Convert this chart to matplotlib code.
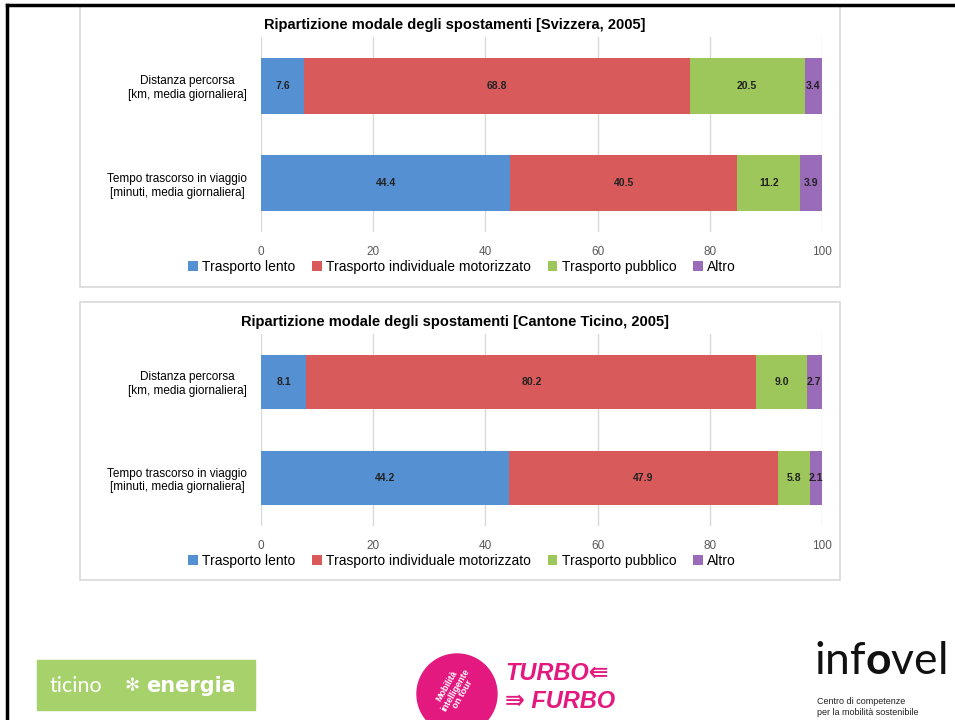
import matplotlib
matplotlib.use("Agg")
from matplotlib import pyplot as plt
from matplotlib.patches import Rectangle, Ellipse

W, H = 955, 720

# dati
categorie = ["Distanza percorsa\n[km, media giornaliera]",
             "Tempo trascorso in viaggio\n[minuti, media giornaliera]"]
modi = ["Trasporto lento", "Trasporto individuale motorizzato",
        "Trasporto pubblico", "Altro"]
colori = ["#5590D2", "#D95A5B", "#9DC75B", "#9A6BB8"]

svizzera = [[7.6, 44.4], [68.8, 40.5], [20.5, 11.2], [3.4, 3.9]]
ticino = [[8.1, 44.2], [80.2, 47.9], [9.0, 5.8], [2.7, 2.1]]

titoli = ["Ripartizione modale degli spostamenti [Svizzera, 2005]",
          "Ripartizione modale degli spostamenti [Cantone Ticino, 2005]"]
tick_x = [0, 20, 40, 60, 80, 100]

plt.rcParams["font.family"] = ["Liberation Sans", "DejaVu Sans"]
plt.rcParams["mathtext.fontset"] = "custom"
plt.rcParams["mathtext.rm"] = "Lato"
plt.rcParams["mathtext.bf"] = "Lato:bold"


def rect(x0, y0, x1, y1):
    # coordinate in pixel -> frazioni della figura
    return [x0 / W, 1 - y1 / H, (x1 - x0) / W, (y1 - y0) / H]


fig = plt.figure(figsize=(9.55, 7.2), dpi=100)


def grafico(dati, titolo, box, area, y_titolo, y_legenda):
    bx0, by0, bx1, by1 = box
    fig.add_artist(Rectangle((bx0 / W, 1 - by1 / H), (bx1 - bx0) / W, (by1 - by0) / H,
                             transform=fig.transFigure, fill=False,
                             edgecolor="#D9D9D9", lw=1.2))
    ax = fig.add_axes(rect(*area))
    pos = [1, 0]
    left = [0, 0]
    for i, serie in enumerate(dati):
        bars = ax.barh(pos, serie, left=left, height=0.57, color=colori[i],
                       label=modi[i], zorder=3)
        ax.bar_label(bars, labels=["%.1f" % v for v in serie], label_type="center",
                     fontsize=7.5, fontweight="bold", color="#222222")
        left = [left[k] + serie[k] for k in range(2)]
    ax.set_xlim(0, 100)
    ax.set_ylim(-0.5, 1.5)
    ax.set_xticks(tick_x)
    ax.set_yticks(pos)
    ax.set_yticklabels(categorie, fontsize=8.5)
    for lbl in ax.get_yticklabels():
        lbl.set_multialignment("center")
    ax.tick_params(axis="x", length=0, labelsize=8.5, labelcolor="#595959", pad=10)
    ax.tick_params(axis="y", length=0, pad=10)
    ax.grid(axis="x", color="#D9D9D9", lw=1, zorder=0)
    for s in ax.spines.values():
        s.set_visible(False)
    fig.text(455 / W, 1 - y_titolo / H, titolo, ha="center", va="center",
             fontsize=10.5, fontweight="bold")
    h, l = ax.get_legend_handles_labels()
    fig.legend(h, l, loc="center", bbox_to_anchor=(462 / W, 1 - y_legenda / H),
               ncol=4, frameon=False, fontsize=10, handlelength=0.7,
               handleheight=0.7, handletextpad=0.3, columnspacing=1.2)


grafico(svizzera, titoli[0], (80, 5, 840, 287), (261, 37, 822, 232), 25, 267)
grafico(ticino, titoli[1], (80, 302, 840, 580), (261, 334, 822, 526), 322, 561)

# cornice nera della slide
fig.add_artist(plt.Line2D([7 / W, 1], [1 - 5 / H, 1 - 5 / H], color="black", lw=2.5))
fig.add_artist(plt.Line2D([7 / W, 7 / W], [0, 1 - 5 / H], color="black", lw=2.5))

# loghi in basso
fig.add_artist(Rectangle((37 / W, 1 - 710 / H), 218 / W, 50 / H,
                         transform=fig.transFigure, color="#A6D16B"))
fig.text(49 / W, 1 - 686 / H, "ticino", color="white", fontsize=15.5,
         family="Lato", va="center")
fig.text(125 / W, 1 - 686 / H, "\u273b", color="white", fontsize=13,
         family="DejaVu Sans", va="center")
fig.text(146 / W, 1 - 686 / H, "energia", color="white", fontsize=15,
         family="DejaVu Sans", fontweight="bold", va="center")

fig.add_artist(Ellipse((457 / W, 1 - 694 / H), 80 / W, 80 / H, transform=fig.transFigure,
                       color="#E3197F", clip_on=False))
fig.text(455 / W, 1 - 690 / H, "Mobilità\nintelligente\non tour", color="white",
         fontsize=6.5, fontweight="bold", rotation=60, ha="center", va="center",
         linespacing=1.0)
fig.text(505 / W, 1 - 673 / H, "TURBO\u21da", color="#E3197F", fontsize=17,
         fontweight="bold", style="italic", va="center")
fig.text(505 / W, 1 - 702 / H, "\u21db FURBO", color="#E3197F", fontsize=17,
         fontweight="bold", style="italic", va="center")

fig.text(814 / W, 1 - 661 / H, r"inf$\mathbf{o}$vel", fontsize=32, family="Lato",
         va="center", color="#111111")
fig.text(817 / W, 1 - 707 / H, "Centro di competenze\nper la mobilità sostenibile",
         fontsize=6.5, va="center", color="#222222")

fig.savefig("out.png", dpi=100)
